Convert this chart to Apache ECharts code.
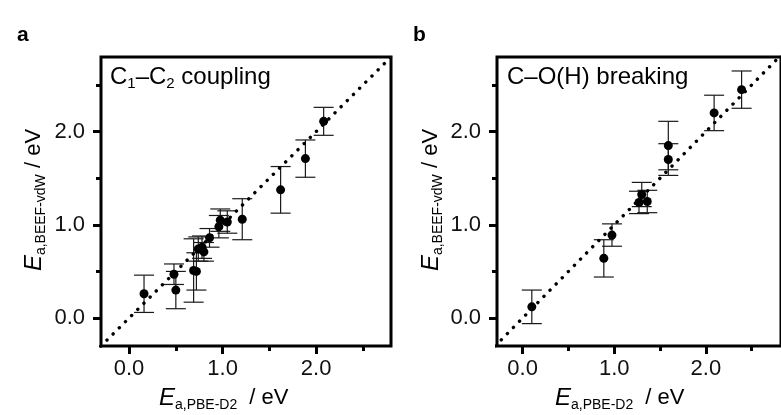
<!DOCTYPE html>
<html>
<head>
<meta charset="utf-8">
<script src="https://cdn.jsdelivr.net/npm/echarts@6/dist/echarts.min.js"></script>
<style>
  html, body { margin: 0; padding: 0; background: #fff; }
  #chart { width: 781px; height: 415px; }
</style>
</head>
<body>
<div id="chart"></div>
<script>
// ---- Data ----
// Panel a: C1–C2 coupling
const aX   = [0.16, 0.48, 0.50, 0.69, 0.72, 0.74, 0.78, 0.80, 0.86, 0.96, 0.975, 1.05, 1.21, 1.62, 1.885, 2.08];
const aY   = [0.26, 0.47, 0.30, 0.51, 0.50, 0.74, 0.76, 0.71, 0.86, 0.98, 1.05, 1.03, 1.06, 1.375, 1.71, 2.11];
const aErr = [0.20, 0.11, 0.20, 0.34, 0.20, 0.13, 0.12, 0.10, 0.10, 0.12, 0.12, 0.12, 0.22, 0.25, 0.20, 0.15];
// Panel b: C–O(H) breaking
const bX   = [0.10, 0.886, 0.975, 1.27, 1.30, 1.36, 1.59, 1.59, 2.09, 2.39];
const bY   = [0.12, 0.64, 0.89, 1.24, 1.325, 1.25, 1.85, 1.70, 2.20, 2.45];
const bErr = [0.18, 0.20, 0.12, 0.12, 0.13, 0.12, 0.26, 0.17, 0.19, 0.20];
// Parity line y = x
const diag = [-0.5, 3.0];
// Ticks and labels
const majorTicks = [0, 1, 2];
const minorTicks = [0.5, 1.5, 2.5];
const panelTitles = ['{m|C}{s|1}{m|–C}{s|2}{m| coupling}', '{m|C–O(H) breaking}'];
const panelLetters = ['a', 'b'];
const xTitle = '{e|E}{s|a,PBE-D2}{n| / eV}';
const yTitle = '{e|E}{s|a,BEEF-vdW}{n| / eV}';

const FONT = '"Liberation Sans", Arial, Helvetica, sans-serif';

function pairs(xs, ys) { return xs.map((x, i) => [x, ys[i]]); }
function triples(xs, ys, es) { return xs.map((x, i) => [x, ys[i], es[i]]); }

const grids = [
  { left: 101, top: 57, width: 290, height: 289 },
  { left: 497, top: 57, width: 290, height: 289 }
];
const ranges = [
  { xmin: -0.3, xmax: 2.8, ymin: -0.3, ymax: 2.8 },
  { xmin: -0.28, xmax: 2.82, ymin: -0.3, ymax: 2.8 }
];

const option = {
  animation: false,
  backgroundColor: '#ffffff',
  grid: grids.map(g => Object.assign({ show: true, borderWidth: 3, borderColor: '#000', backgroundColor: 'transparent' }, g)),
  xAxis: [],
  yAxis: [],
  series: [],
  graphic: []
};

function axisBase(p, pos, min, max) {
  return {
    type: 'value', gridIndex: p, position: pos, min: min, max: max,
    axisLine: { show: false, onZero: false }, splitLine: { show: false }
  };
}

[0, 1].forEach(p => {
  const r = ranges[p];
  option.xAxis.push(Object.assign(axisBase(p, 'bottom', r.xmin, r.xmax), {
    axisTick: { show: true, customValues: majorTicks, length: 8, lineStyle: { color: '#000', width: 3 } },
    axisLabel: { show: true, customValues: majorTicks, margin: 12, color: '#111', fontSize: 22, fontFamily: FONT,
                 formatter: v => v.toFixed(1) }
  }));
  option.xAxis.push(Object.assign(axisBase(p, 'bottom', r.xmin, r.xmax), {
    axisTick: { show: true, customValues: minorTicks, length: 5, lineStyle: { color: '#000', width: 3 } },
    axisLabel: { show: false }
  }));
  option.yAxis.push(Object.assign(axisBase(p, 'left', r.ymin, r.ymax), {
    axisTick: { show: true, customValues: majorTicks, length: 8, lineStyle: { color: '#000', width: 3 } },
    axisLabel: { show: true, customValues: majorTicks, margin: 16, color: '#111', fontSize: 22, fontFamily: FONT,
                 formatter: v => v.toFixed(1) }
  }));
  option.yAxis.push(Object.assign(axisBase(p, 'left', r.ymin, r.ymax), {
    axisTick: { show: true, customValues: minorTicks, length: 5, lineStyle: { color: '#000', width: 3 } },
    axisLabel: { show: false }
  }));

  const xs = p === 0 ? aX : bX, ys = p === 0 ? aY : bY, es = p === 0 ? aErr : bErr;
  const xi = p * 2, yi = p * 2;

  option.series.push({
    type: 'custom', xAxisIndex: xi, yAxisIndex: yi, silent: true, z: 2,
    data: triples(xs, ys, es),
    encode: { x: 0, y: 1 },
    renderItem: function (params, api) {
      const x = api.value(0), y = api.value(1), e = api.value(2);
      const t = api.coord([x, y + e]);
      const b = api.coord([x, y - e]);
      const hw = 10;
      const st = { stroke: '#1a1a1a', lineWidth: 1.2 };
      return {
        type: 'group',
        children: [
          { type: 'line', shape: { x1: t[0], y1: t[1], x2: b[0], y2: b[1] }, style: st },
          { type: 'line', shape: { x1: t[0] - hw, y1: t[1], x2: t[0] + hw, y2: t[1] }, style: st },
          { type: 'line', shape: { x1: b[0] - hw, y1: b[1], x2: b[0] + hw, y2: b[1] }, style: st }
        ]
      };
    }
  });
  option.series.push({
    type: 'scatter', xAxisIndex: xi, yAxisIndex: yi, silent: true, z: 3,
    symbol: 'circle', symbolSize: 9,
    itemStyle: { color: '#000', opacity: 1 },
    data: pairs(xs, ys)
  });
  option.series.push({
    type: 'line', xAxisIndex: xi, yAxisIndex: yi, silent: true, z: 4,
    symbol: 'none', clip: true,
    lineStyle: { color: '#000', width: 3.4, type: [0.1, 8.6], cap: 'round' },
    data: diag.map(v => [v, v])
  });

  option.graphic.push({
    type: 'text', left: p === 0 ? 17 : 413, top: 25,
    style: { text: panelLetters[p], font: 'bold 21px ' + FONT, fill: '#000' }
  });
  option.graphic.push({
    type: 'text', x: p === 0 ? 110 : 507, y: 63,
    style: {
      text: panelTitles[p], fill: '#000', align: 'left', verticalAlign: 'top',
      rich: {
        m: { fontSize: 24, fontFamily: FONT, lineHeight: 28, fill: '#000' },
        s: { fontSize: 15, fontFamily: FONT, lineHeight: 4, verticalAlign: 'bottom', fill: '#000' }
      }
    }
  });
  option.graphic.push({
    type: 'text', x: p === 0 ? 159 : 555, y: 384,
    style: {
      text: xTitle, fill: '#000', align: 'left', verticalAlign: 'top',
      rich: {
        e: { fontSize: 24, fontStyle: 'italic', fontFamily: FONT, lineHeight: 28, fill: '#000' },
        s: { fontSize: 14, fontFamily: FONT, lineHeight: 4, verticalAlign: 'bottom', fill: '#000' },
        n: { fontSize: 22, fontFamily: FONT, lineHeight: 28, fill: '#000', padding: [0, 0, 0, 6] }
      }
    }
  });
  option.graphic.push({
    type: 'text', x: p === 0 ? 34 : 431, y: 200, rotation: Math.PI / 2,
    style: {
      text: yTitle, fill: '#000', align: 'center', verticalAlign: 'middle',
      rich: {
        e: { fontSize: 24, fontStyle: 'italic', fontFamily: FONT, lineHeight: 28, fill: '#000' },
        s: { fontSize: 14, fontFamily: FONT, lineHeight: 4, verticalAlign: 'bottom', fill: '#000' },
        n: { fontSize: 22, fontFamily: FONT, lineHeight: 28, fill: '#000' }
      }
    }
  });
});

const chart = echarts.init(document.getElementById('chart'), null, { renderer: 'canvas' });
chart.setOption(option);
</script>
</body>
</html>
